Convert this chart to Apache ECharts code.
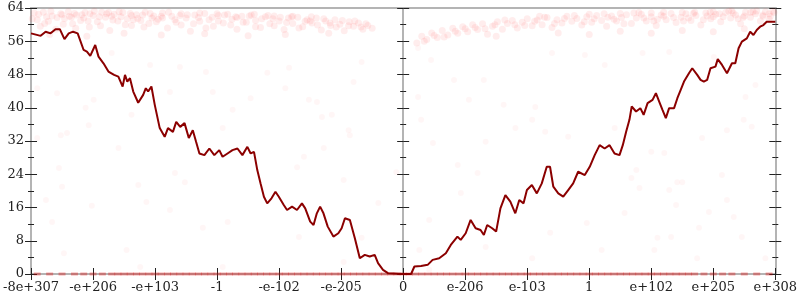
<!DOCTYPE html>
<html><head><meta charset="utf-8">
<script src="https://cdn.jsdelivr.net/npm/echarts@6/dist/echarts.min.js"></script>
<style>html,body{margin:0;padding:0;background:#fff}#c{width:800px;height:300px}</style>
</head><body><div id="c"></div>
<script>
var tickLabels = ['-8e+307','-e+206','-e+103','-1','-e-102','-e-205','0','e-206','e-103','1','e+102','e+205','e+308'];
var yTicks = [0, 64, 8];

var lineData = [
[-6.0,57.9],[-5.845,57.3],[-5.765,58.3],[-5.685,57.9],[-5.605,58.9],[-5.536,58.9],[-5.461,56.5],[-5.392,57.9],[-5.323,58.3],[-5.248,57.9],
[-5.152,53.9],[-5.099,53.5],[-5.045,52.5],[-4.965,55.1],[-4.912,52.3],[-4.832,50.7],[-4.752,48.7],[-4.661,47.9],[-4.592,47.5],[-4.523,45.1],
[-4.485,47.9],[-4.448,46.3],[-4.405,47.1],[-4.352,43.9],[-4.272,41.2],[-4.192,43.1],[-4.149,44.7],[-4.112,43.9],[-4.059,45.1],[-4.005,40.7],
[-3.925,35.1],[-3.845,33.0],[-3.792,35.1],[-3.712,34.2],[-3.659,36.6],[-3.595,35.4],[-3.525,36.3],[-3.456,32.7],[-3.392,34.6],[-3.339,31.8],
[-3.285,29.0],[-3.205,28.6],[-3.125,30.2],[-3.045,28.6],[-2.965,29.8],[-2.912,28.2],[-2.832,29.0],[-2.752,29.8],[-2.672,30.2],[-2.592,28.6],
[-2.512,30.6],[-2.459,29.0],[-2.405,29.4],[-2.352,25.0],[-2.299,21.8],[-2.245,18.6],[-2.192,17.0],[-2.123,18.2],[-2.059,19.8],[-2.005,18.6],
[-1.925,16.6],[-1.872,15.4],[-1.792,16.2],[-1.712,15.4],[-1.632,17.0],[-1.579,15.8],[-1.499,12.6],[-1.445,11.8],[-1.392,14.6],[-1.339,16.2],
[-1.285,14.6],[-1.216,11.4],[-1.125,9.0],[-1.045,9.8],[-0.992,11.0],[-0.939,13.4],[-0.859,13.0],[-0.779,8.6],[-0.699,3.8],[-0.619,4.6],
[-0.539,4.2],[-0.459,4.6],[-0.405,2.6],[-0.325,1.0],[-0.245,0.2],[0,0],
[0.128,0],[0.181,1.8],[0.288,1.9],[0.395,2.2],[0.475,3.4],[0.581,3.8],[0.688,5.0],[0.768,7.0],[0.875,9.0],[0.928,8.2],
[1.008,9.8],[1.088,13.0],[1.168,11.0],[1.248,10.6],[1.301,9.4],[1.355,11.8],[1.435,11.0],[1.499,10.2],[1.568,15.8],[1.648,19.0],
[1.728,17.4],[1.808,14.6],[1.872,17.8],[1.941,17.0],[1.995,20.2],[2.075,21.4],[2.155,19.4],[2.235,21.8],[2.315,25.8],[2.368,25.8],
[2.421,21.0],[2.501,19.4],[2.581,18.6],[2.661,20.2],[2.741,21.8],[2.821,24.6],[2.928,23.8],[3.008,25.8],[3.088,28.6],[3.168,31.0],
[3.248,30.2],[3.328,31.0],[3.408,29.0],[3.488,28.6],[3.541,31.0],[3.595,34.2],[3.648,37.1],[3.685,40.3],[3.755,39.1],[3.824,39.9],
[3.877,38.3],[3.941,41.1],[4.021,41.9],[4.075,43.5],[4.128,41.5],[4.181,39.5],[4.235,37.5],[4.288,39.9],[4.368,39.9],[4.421,42.3],
[4.475,44.3],[4.528,46.3],[4.608,48.3],[4.661,49.5],[4.741,47.9],[4.795,46.7],[4.848,46.3],[4.901,46.7],[4.955,49.5],[5.035,49.9],
[5.072,51.7],[5.141,50.3],[5.221,48.3],[5.301,50.7],[5.355,50.7],[5.408,54.3],[5.461,55.9],[5.541,56.7],[5.595,58.3],[5.648,57.5],
[5.701,58.7],[5.755,59.5],[5.808,59.9],[5.861,60.7],[6.0,60.7]
];

var bandLeft = [
[-5.95,62.8],[-5.9,61.2],[-5.85,59.6],[-5.8,63.0],[-5.72,60.8],[-5.66,62.1],[-5.6,58.9],[-5.52,62.6],[-5.46,61.5],
[-5.4,63.1],[-5.33,60.2],[-5.27,62.3],[-5.2,61.0],[-5.13,62.9],[-5.06,59.4],[-5.0,62.2],[-4.93,60.7],[-4.86,63.0],
[-4.8,61.8],[-4.73,58.6],[-4.66,62.5],[-4.6,60.9],[-4.52,62.9],[-4.45,61.4],[-4.38,59.8],[-4.3,62.4],[-4.23,61.0],
[-4.16,63.0],[-4.1,60.3],[-4.02,62.1],[-3.95,61.3],[-3.88,62.8],[-3.8,59.2],[-3.73,62.0],[-3.66,60.6],[-3.58,62.6],
[-3.5,61.6],[-3.43,58.4],[-3.36,62.3],[-3.28,60.8],[-3.2,62.7],[-3.13,61.2],[-3.06,59.6],[-2.98,62.2],[-2.9,60.4],
[-2.83,62.5],[-2.76,61.3],[-2.68,58.9],[-2.6,62.0],[-2.53,60.6],[-2.45,62.3],[-2.38,61.0],[-2.3,59.3],[-2.22,61.9],
[-2.15,60.2],[-2.08,62.1],[-2.0,60.9],[-1.92,58.8],[-1.85,61.6],[-1.78,60.3],[-1.7,61.8],[-1.62,59.5],[-1.55,61.2],
[-1.47,60.4],[-1.4,61.6],[-1.32,58.7],[-1.25,60.9],[-1.17,59.8],[-1.1,61.2],[-1.02,60.1],[-0.95,58.5],[-0.87,60.7],
[-0.8,59.6],[-0.72,60.4],[-0.65,58.9],[-0.57,59.8],[-0.5,59.1],
[-5.5,62.4],[-5.3,62.7],[-5.05,62.6],[-4.9,61.9],[-4.7,62.0],[-4.4,62.7],[-4.55,61.9],[-4.2,62.3],[-3.9,62.0],[-3.6,62.2],
[-3.3,61.7],[-3.0,62.6],[-2.7,61.9],[-2.4,62.5],[-2.1,61.4],[-1.8,61.9],[-1.5,60.9],[-5.75,61.9],[-5.15,61.6],[-4.35,61.2],
[-5.98,61.4],[-5.88,62.5],[-5.78,60.3],[-5.68,63.2],[-5.58,61.7],[-5.48,60.1],[-5.38,62.0],[-5.28,59.1],[-5.18,62.4],[-5.08,60.9],
[-4.98,63.2],[-4.88,59.7],[-4.78,62.6],[-4.68,61.1],[-4.58,63.1],[-4.48,60.0],[-4.38,62.2],[-4.28,61.5],[-4.18,59.4],[-4.08,62.7],
[-3.98,60.7],[-3.88,61.6],[-3.78,63.0],[-3.68,61.2],[-3.58,59.9],[-3.48,62.4],[-3.38,60.2],[-3.28,62.8],[-3.18,59.2],[-3.08,61.8],
[-2.98,60.9],[-2.88,62.3],[-2.78,59.9],[-2.68,61.7],[-2.58,60.6],[-2.48,62.1],[-2.38,59.5],[-2.28,61.4],[-2.18,62.2],[-2.08,59.7],
[-1.98,61.8],[-1.88,60.5],[-1.78,62.0],[-1.68,59.2],[-1.58,60.8],[-1.48,61.9],[-1.38,59.9],[-1.28,61.4],[-1.18,60.4],[-1.08,59.4],
[-0.98,61.0],[-0.88,59.7],[-0.78,60.9],[-0.68,59.4],[-0.6,60.2],
[-5.7,57.6],[-5.1,57.2],[-4.5,57.9],[-3.9,57.5],[-3.2,57.8],[-2.5,57.3],[-1.9,57.6],[-1.2,57.9],[-5.35,61.8],[-4.75,62.9],[-4.05,61.6]
];

var bandRight = [
[0.22,55.6],[0.3,57.2],[0.38,56.4],[0.46,58.0],[0.55,56.9],[0.63,58.6],[0.72,57.5],[0.8,59.1],[0.88,57.9],
[0.96,59.5],[1.04,58.3],[1.12,60.0],[1.2,58.8],[1.28,60.2],[1.36,57.7],[1.44,59.6],[1.52,60.7],[1.6,58.9],
[1.68,60.3],[1.76,61.0],[1.84,59.2],[1.92,60.6],[2.0,61.4],[2.08,59.7],[2.16,61.1],[2.24,60.0],[2.32,61.7],
[2.4,59.3],[2.48,61.2],[2.56,60.4],[2.64,62.0],[2.72,60.8],[2.8,61.5],[2.88,59.9],[2.96,61.9],[3.04,60.6],
[3.12,62.2],[3.2,61.0],[3.28,59.6],[3.36,62.1],[3.44,60.9],[3.52,61.7],[3.6,62.4],[3.68,60.3],[3.76,61.6],
[3.84,62.5],[3.92,60.9],[4.0,61.9],[4.08,59.8],[4.16,62.3],[4.24,61.2],[4.32,62.7],[4.4,60.5],[4.48,61.8],
[4.56,62.6],[4.64,61.0],[4.72,62.2],[4.8,59.9],[4.88,62.8],[4.96,61.4],[5.04,62.5],[5.12,60.7],[5.2,62.9],
[5.28,61.6],[5.36,62.3],[5.44,60.2],[5.52,63.0],[5.6,61.8],[5.68,62.6],[5.76,60.9],[5.84,63.1],[5.92,62.0],
[5.98,62.9],[5.5,62.1],[5.0,61.9],[4.5,62.9],[4.0,62.8],[3.5,62.7],[3.0,62.5],[5.7,63.3],[5.9,61.3],
[4.2,62.0],[4.7,63.0],[5.25,63.2],[5.8,62.3],[3.8,62.9],[5.4,61.4],[4.9,62.1],
[0.34,56.0],[0.5,57.4],[0.66,57.0],[0.84,58.4],[1.0,59.0],[1.16,59.3],[1.32,59.0],[1.48,60.0],[1.64,61.1],[1.8,60.0],
[1.96,59.8],[2.12,60.8],[2.28,61.8],[2.44,60.3],[2.6,61.5],[2.76,62.2],[2.92,60.7],[3.08,61.4],[3.24,62.6],[3.4,61.3],
[3.56,60.2],[3.72,62.8],[3.88,61.6],[4.04,60.9],[4.2,63.0],[4.36,61.7],[4.52,60.9],[4.68,62.7],[4.84,61.2],[5.0,63.1],
[5.16,61.9],[5.32,62.8],[5.48,61.7],[5.64,63.1],[5.8,62.0],[5.96,63.2],[4.1,61.3],[4.6,61.6],[5.1,62.6],[5.6,62.9],
[5.9,62.6],[5.3,63.3],[4.95,63.0],[3.3,61.8],[2.2,62.0],
[1.5,57.2],[2.5,58.0],[3.5,58.4],[4.5,58.6],[5.5,59.0],[3.0,57.6],[4.0,57.9],[5.0,58.3]
];

var sparse = [
[-5.9,44.7],[-5.58,43.5],[-5.12,40],[-4.99,41.9],[-5.07,35.8],[-5.52,33.4],[-5.42,33.9],[-5.9,32.7],[-5.55,25.5],[-5.5,21],
[-5.76,17.8],[-5.66,12.5],[-5.47,5],[-5.02,16.4],[-4.7,53.2],[-4.38,38.3],[-4.59,30.3],[-4.27,21.4],[-4.14,17.3],[-4.46,5.8],
[-4.08,50.3],[-3.76,43.8],[-3.6,49.8],[-3.68,24.3],[-3.52,22.1],[-3.76,15.4],[-3.23,11.1],[-3.18,48.6],[-3.07,43.8],[-2.91,35.1],
[-2.83,12.5],[-2.46,42.3],[-2.75,39.5],[-2.19,48.4],[-1.9,44.7],[-1.84,49.6],[-1.71,25.7],[-1.68,8.9],[-1.6,28.2],[-1.52,41.9],
[-1.39,41.4],[-1.31,37.8],[-1.28,30.3],[-0.96,22.6],[-0.88,34.6],[-0.86,33.4],[-0.67,51],[-0.4,17.1],[-0.67,8.7],[-0.96,2.9],
[-0.8,46.2],[-1.15,38.3],[-0.11,24.5],[-4.24,1.7],[-2.91,1.7],
[0.24,54.4],[0.45,51.5],[0.24,42.6],[0.29,37.1],[0.48,31.5],[0.88,26.2],[0.93,19.5],[0.42,13],[0.26,5.8],[0.82,46.7],
[1.06,41.9],[1.3,46.7],[1.33,31.8],[1.2,24.3],[1.33,6.5],[1.62,40.7],[1.81,35.1],[2.08,37.1],[2.13,40.2],[2.29,34.2],
[2.4,53.2],[2.66,33],[2.37,9.9],[2.08,3.8],[2.96,12.3],[3.2,5.8],[3.25,50.3],[3.41,35.1],[3.57,14.7],[3.68,23.1],
[3.76,25],[3.81,20.7],[4,29.4],[4.1,8.7],[4.05,5.8],[4.21,29.1],[4.29,53.4],[4.32,8.9],[4.42,22.1],[4.5,22.1],
[4.4,16.6],[4.29,20.2],[4.82,32.7],[4.93,14.9],[4.77,11.1],[4.74,3.8],[5.22,17.8],[5.33,13.7],[5.49,37.1],[5.62,35.4],
[5.22,34.6],[5.14,23.8],[5.46,8.9],[5.84,3.8],[5.68,45.5],[5.52,42.6],[5.01,52.2],[3.86,53.2],[2.93,52.7],[0.42,1]
];

var zeroX = [-5.9,-5.7,-5.5,-5.3,-5.15,-5.0,-4.85,-4.7,-4.6,-4.5,-4.4,-4.3,-4.2,-4.1,-4.0,-3.9,-3.8,-3.7,-3.6,-3.5,-3.4,-3.3,-3.2,-3.1,-3.0,-2.9,-2.8,-2.7,-2.6,-2.5,-2.4,-2.3,-2.2,-2.1,-2.0,-1.9,-1.8,-1.7,-1.6,-1.5,-1.4,-1.3,-1.2,-1.1,-1.0,-0.9,-0.8,-0.7,-0.6,-0.5,-0.4,-0.3,-0.2,-0.1,0,0.1,0.2,0.3,0.4,0.5,0.6,0.7,0.8,0.9,1.0,1.1,1.2,1.3,1.4,1.5,1.6,1.7,1.8,1.9,2.0,2.1,2.2,2.3,2.4,2.5,2.6,2.7,2.8,2.9,3.0,3.1,3.2,3.3,3.4,3.5,3.6,3.7,3.8,3.9,4.0,4.1,4.2,4.3,4.4,4.5,4.6,4.7,4.85,5.0,5.15,5.3,5.5,5.7,5.9];

var FONT = 'DejaVu Serif';
var AX = '#b4b4b4', TK = '#222';
function yAx(pos, inside, onZero, labels, line) {
  return {
    type: 'value', min: yTicks[0], max: yTicks[1], interval: yTicks[2], position: pos,
    axisLine: { show: line, onZero: onZero, lineStyle: { color: AX, width: 2 } },
    axisTick: { show: true, inside: inside, length: 6, lineStyle: { color: TK, width: 1 } },
    minorTick: { show: true, splitNumber: 2, length: 3, lineStyle: { color: TK, width: 1 } },
    axisLabel: { show: labels, fontFamily: FONT, fontSize: 13, color: '#222', margin: 7 },
    splitLine: { show: false }
  };
}
function xAx(pos, inside, labels, line, ticks) {
  return {
    type: 'value', min: -6, max: 6, interval: 1, position: pos,
    axisLine: { show: line, onZero: false, lineStyle: { color: AX, width: 2 } },
    axisTick: { show: ticks, inside: inside, length: 6, lineStyle: { color: TK, width: 1 } },
    axisLabel: { show: labels, fontFamily: FONT, fontSize: 13, color: '#222', margin: 7,
      formatter: function (v) { return tickLabels[Math.round(v) + 6]; } },
    splitLine: { show: false }
  };
}
var zeroData = zeroX.map(function (x) { return [x, 0]; });
var chart = echarts.init(document.getElementById('c'), null, { renderer: 'canvas' });
chart.setOption({
  animation: false,
  grid: { left: 27, right: 22, top: 8, bottom: 26, containLabel: false },
  xAxis: [ xAx('bottom', false, true, true, true), xAx('bottom', true, false, false, true), xAx('top', false, false, true, false) ],
  yAxis: [ yAx('left', false, false, true, true), yAx('left', true, false, false, false),
           yAx('right', false, false, false, true), yAx('right', true, false, false, false),
           yAx('left', false, true, false, true), yAx('left', true, true, false, false) ],
  series: [
    { type: 'scatter', data: bandLeft.concat(bandRight), symbolSize: 7, clip: true,
      itemStyle: { color: 'rgba(255,0,0,0.085)' }, z: 2 },
    { type: 'scatter', data: sparse, symbolSize: 6, clip: false,
      itemStyle: { color: 'rgba(255,0,0,0.045)' }, z: 2 },
    { type: 'scatter', data: zeroData, symbol: 'rect', symbolSize: [7, 3], clip: false,
      itemStyle: { color: 'rgba(230,0,0,0.42)' }, z: 2 },
    { type: 'line', data: lineData, showSymbol: false, symbol: 'none', clip: false,
      lineStyle: { color: '#8b0000', width: 2 }, z: 3 }
  ]
});
</script></body></html>
